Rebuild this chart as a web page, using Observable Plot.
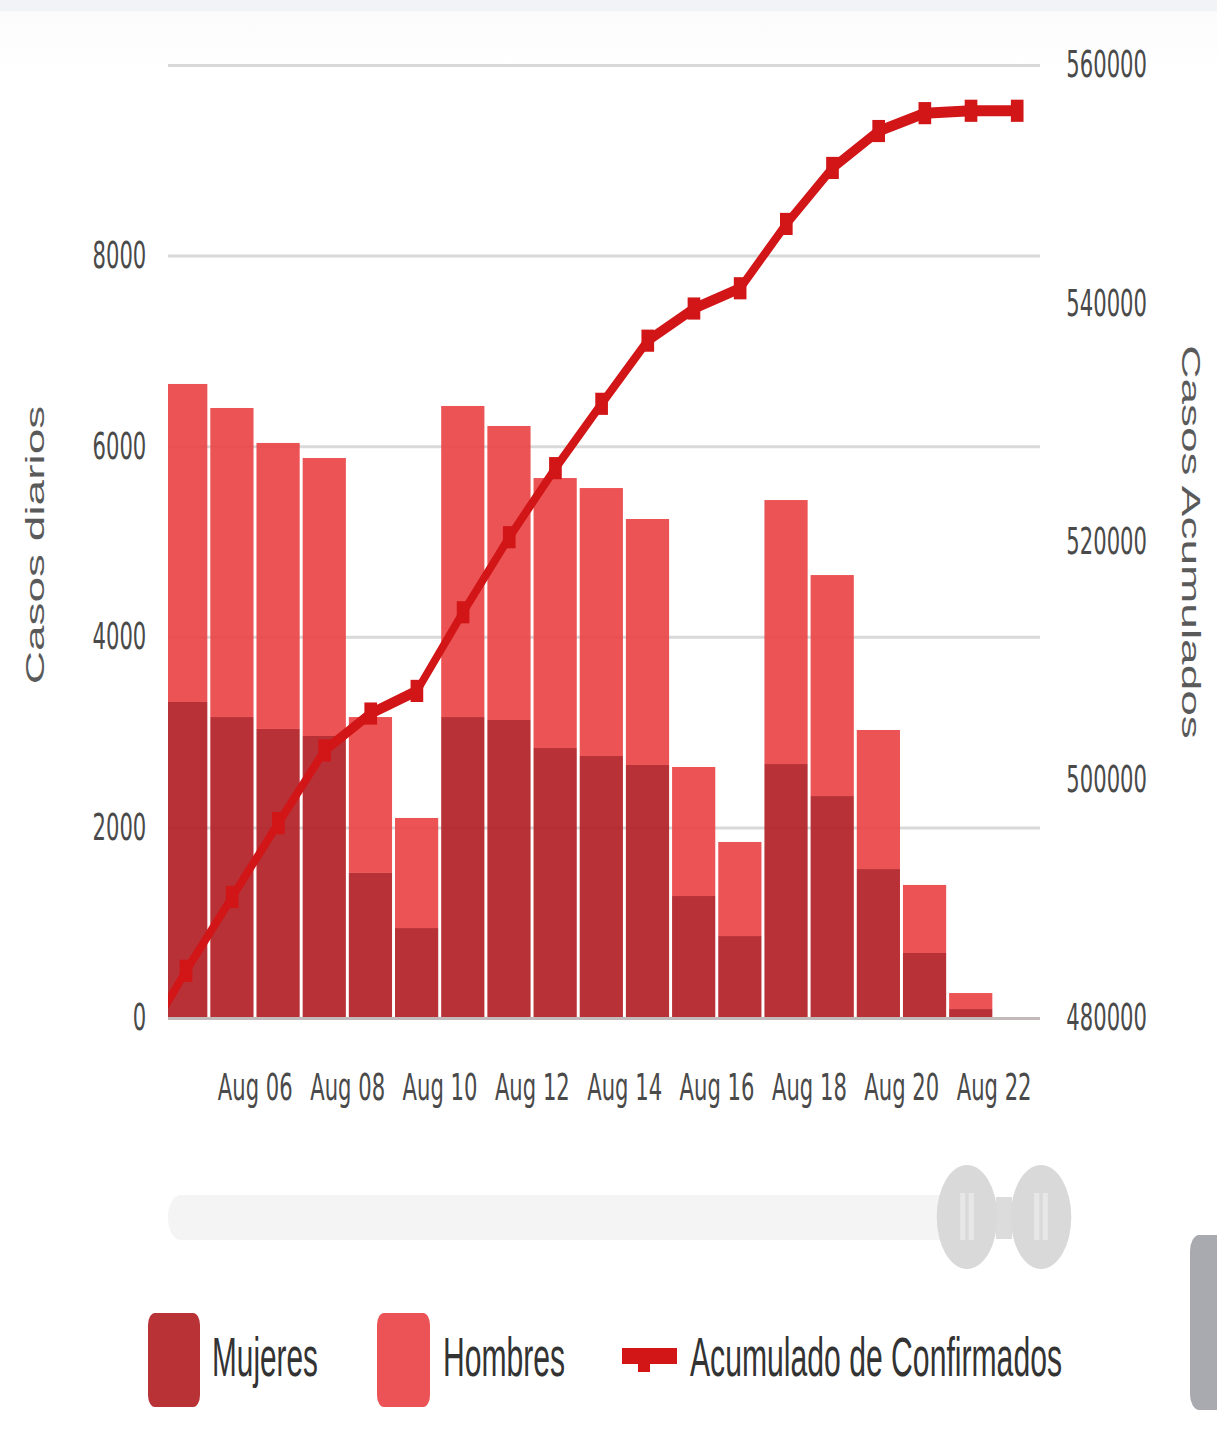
<!DOCTYPE html>
<html>
<head>
<meta charset="utf-8">
<script src="https://cdn.jsdelivr.net/npm/d3@7"></script>
<script src="https://cdn.jsdelivr.net/npm/@observablehq/plot@0.6"></script>
<style>
  html, body { margin: 0; padding: 0; overflow: hidden; background: #fff; width: 1217px; height: 1440px; }
  #wrap { position: absolute; left: 0; top: 0; height: 1440px; transform-origin: 0 0; }
  #topband { position: absolute; left: 0; top: 0; width: 100%; height: 70px;
    background: linear-gradient(#f1f3f7 0px, #f1f3f7 10px, #fbfbfc 12px, #ffffff 70px); }
  #chart, #extras { position: absolute; left: 0; top: 0; }
</style>
</head>
<body>
<div id="wrap"><div id="topband"></div><div id="chart"></div><div id="extras"></div></div>
<script>
// ---------------- data ----------------
const dates = ["2020-08-04","2020-08-05","2020-08-06","2020-08-07","2020-08-08","2020-08-09","2020-08-10",
  "2020-08-11","2020-08-12","2020-08-13","2020-08-14","2020-08-15","2020-08-16","2020-08-17","2020-08-18",
  "2020-08-19","2020-08-20","2020-08-21","2020-08-22"];
const mujeres = [3316, 3158, 3033, 2959, 1522, 944, 3158, 3127, 2833, 2749, 2655, 1280, 860, 2665, 2329, 1563, 682, 94, 0];
const hombres = [3337, 3243, 3001, 2917, 1636, 1155, 3264, 3085, 2833, 2812, 2581, 1354, 987, 2770, 2319, 1459, 714, 168, 0];
const lineDates = ["2020-08-03","2020-08-04","2020-08-05","2020-08-06","2020-08-07","2020-08-08","2020-08-09","2020-08-10",
  "2020-08-11","2020-08-12","2020-08-13","2020-08-14","2020-08-15","2020-08-16","2020-08-17","2020-08-18",
  "2020-08-19","2020-08-20","2020-08-21","2020-08-22"];
const acumulado = [477400, 484000, 490200, 496400, 502500, 505600, 507500, 514100, 520400, 526200, 531600,
  536900, 539600, 541300, 546700, 551400, 554500, 556000, 556200, 556200];
const leftTicks = [0, 2000, 4000, 6000, 8000];
const gridTicks = [0, 2000, 4000, 6000, 8000, 10000];
const rightTicks = [480000, 500000, 520000, 540000, 560000];
const xTickDates = ["2020-08-06","2020-08-08","2020-08-10","2020-08-12","2020-08-14","2020-08-16","2020-08-18","2020-08-20","2020-08-22"];
const series = ["Mujeres", "Hombres"];
const legendLabels = ["Mujeres", "Hombres", "Acumulado de Confirmados"];

// ---------------- layout ----------------
const S = 1.75;                    // horizontal compression of the whole picture
const W = Math.round(1217 * S);
document.getElementById("wrap").style.width = W + "px";
document.getElementById("wrap").style.transform = `scaleX(${1 / S})`;
const X = (x) => x * S;            // reference px -> drawing px

const parse = d3.utcParse("%Y-%m-%d");
const DAY = 864e5;
const bars = [];
dates.forEach((d, i) => {
  bars.push({date: parse(d), sexo: series[0], value: mujeres[i]});
  bars.push({date: parse(d), sexo: series[1], value: hombres[i]});
});
const line = lineDates.map((d, i) => ({date: new Date(+parse(d) + DAY / 2), cum: acumulado[i]}));
const toLeft = (v) => (v - 480000) / 8;   // right axis -> left units

const red = "#d21517";
const frameL = Math.round(X(168)), frameR = Math.round(X(1040));

const chart = Plot.plot({
  width: W,
  height: 1130,
  marginLeft: frameL,
  marginRight: W - frameR,
  marginTop: 65,
  marginBottom: 112,
  style: {fontFamily: "DejaVu Sans", fontSize: "37px", color: "#4a4a4a", background: "transparent", overflow: "visible"},
  x: {type: "utc", domain: [new Date(Date.UTC(2020, 7, 4, 2, 47)), new Date(Date.UTC(2020, 7, 23))], axis: null},
  y: {domain: [0, 10000], axis: null},
  color: {domain: series, range: ["#b22025", "#ea4447"]},
  marks: [
    Plot.gridY(gridTicks, {stroke: "#d9d9d9", strokeOpacity: 1, strokeWidth: 3}),
    Plot.rectY(bars, {x: "date", interval: d3.utcDay, y: "value", fill: "sexo", fillOpacity: 0.92,
      insetLeft: 2.6, insetRight: 2.6, clip: true}),
    Plot.ruleY([0], {stroke: "#c2baba", strokeWidth: 3}),
    Plot.line(line, {x: "date", y: (d) => toLeft(d.cum), stroke: red, strokeWidth: 11, clip: true}),
    Plot.dot(line, {x: "date", y: (d) => toLeft(d.cum), symbol: "square", r: 12.5, fill: red, clip: true}),
    Plot.axisY(leftTicks, {anchor: "left", tickSize: 0, tickPadding: frameL - X(146), fontSize: 37,
      tickFormat: (d) => String(d), label: null}),
    Plot.axisY(rightTicks.map(toLeft), {anchor: "right", tickSize: 0, tickPadding: X(1066) - frameR, fontSize: 37,
      tickFormat: (d) => String(480000 + d * 8), label: null}),
    Plot.axisX(xTickDates.map(parse), {anchor: "bottom", tickSize: 0, tickPadding: 55, fontSize: 37,
      tickFormat: d3.utcFormat("%b %d"), label: null}),
    Plot.text(["Casos diarios"], {frameAnchor: "left", textAnchor: "middle", dx: X(35) - frameL, dy: 3, rotate: -90,
      fontSize: 46, fontFamily: "Liberation Sans", fill: "#5a5a5a"}),
    Plot.text(["Casos Acumulados"], {frameAnchor: "right", textAnchor: "middle", dx: X(1190) - frameR, rotate: 90,
      fontSize: 46, fontFamily: "Liberation Sans", fill: "#5a5a5a"})
  ]
});
document.getElementById("chart").append(chart);

// ---------------- slider + legend (decoration) ----------------
const svg = d3.create("svg").attr("width", W).attr("height", 1440).attr("viewBox", `0 0 ${W} 1440`)
  .style("overflow", "visible");
// slider track
svg.append("rect").attr("x", X(168)).attr("y", 1195).attr("width", X(975) - X(168)).attr("height", 45)
  .attr("rx", 22).attr("fill", "#f4f4f4");
// connector
svg.append("rect").attr("x", X(996)).attr("y", 1197).attr("width", X(1012) - X(996)).attr("height", 42).attr("fill", "#dcdcdc");
for (const cx of [X(967), X(1041)]) {
  svg.append("ellipse").attr("cx", cx).attr("cy", 1217).attr("rx", 53).attr("ry", 52).attr("fill", "#d9d9d9");
  for (const off of [-7.5, 7.5]) {
    svg.append("rect").attr("x", cx + off - 4.5).attr("y", 1193).attr("width", 9).attr("height", 47).attr("fill", "#e7e7e7");
  }
}
// legend
const sw = [{x0: 148, x1: 200, c: "#b83236"}, {x0: 377, x1: 430, c: "#ec5356"}];
sw.forEach((s) => svg.append("rect").attr("x", X(s.x0)).attr("y", 1313).attr("width", X(s.x1) - X(s.x0))
  .attr("height", 94).attr("rx", 12).attr("fill", s.c));
svg.append("rect").attr("x", X(622)).attr("y", 1348).attr("width", X(677) - X(622)).attr("height", 16).attr("fill", red);
svg.append("rect").attr("x", X(638)).attr("y", 1348).attr("width", X(650) - X(638)).attr("height", 24).attr("fill", red);
const lt = [{x: 212, w: 106}, {x: 443, w: 122}, {x: 690, w: 372}];
legendLabels.forEach((t, i) => svg.append("text").attr("x", X(lt[i].x)).attr("y", 1376)
  .attr("font-family", "Liberation Sans").attr("font-size", 55).attr("fill", "#333")
  .attr("textLength", X(lt[i].w)).attr("lengthAdjust", "spacingAndGlyphs").text(t));
// right scrollbar piece
svg.append("rect").attr("x", X(1190)).attr("y", 1235).attr("width", 120).attr("height", 175)
  .attr("rx", 16).attr("ry", 16).attr("fill", "#a9aaaf");
document.getElementById("extras").append(svg.node());
</script>
</body>
</html>
